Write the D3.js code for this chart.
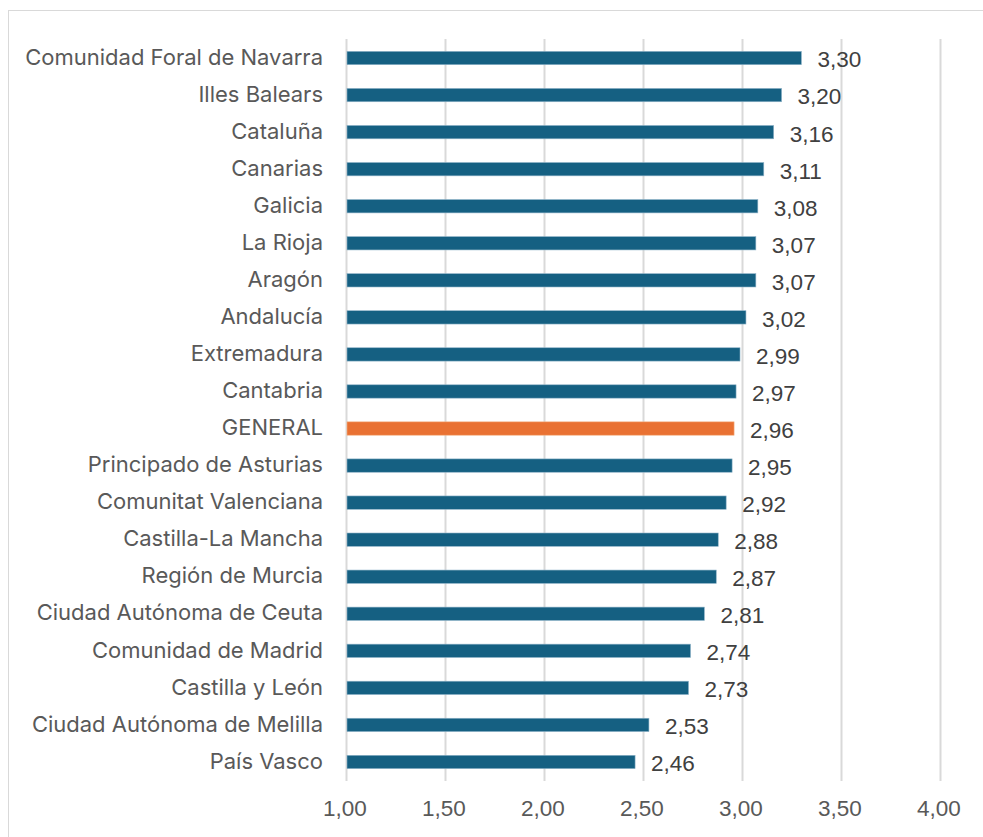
<!DOCTYPE html>
<html><head><meta charset="utf-8">
<script src="https://cdn.jsdelivr.net/npm/d3@7"></script>
<style>body{margin:0;background:#fff;}svg{display:block;}</style>
</head><body>
<script>
const categories = ["Comunidad Foral de Navarra","Illes Balears","Cataluña","Canarias","Galicia","La Rioja","Aragón","Andalucía","Extremadura","Cantabria","GENERAL","Principado de Asturias","Comunitat Valenciana","Castilla-La Mancha","Región de Murcia","Ciudad Autónoma de Ceuta","Comunidad de Madrid","Castilla y León","Ciudad Autónoma de Melilla","País Vasco"];
const values = [3.30,3.20,3.16,3.11,3.08,3.07,3.07,3.02,2.99,2.97,2.96,2.95,2.92,2.88,2.87,2.81,2.74,2.73,2.53,2.46];
const tickValues = [1.0,1.5,2.0,2.5,3.0,3.5,4.0];
const highlight = "GENERAL";

const W = 983, H = 837;
const svg = d3.select("body").append("svg").attr("width", W).attr("height", H);
svg.append("rect").attr("x", 8.5).attr("y", 10.5).attr("width", W).attr("height", H)
  .attr("fill", "#fff").attr("stroke", "#d9d9d9").attr("stroke-width", 1);

const x = d3.scaleLinear().domain([1, 4]).range([346, 940]);
const y = d3.scaleBand().domain(categories).range([39.5, 780.5]).paddingInner(0.64).paddingOuter(0.32);
const fmt = v => d3.format(".2f")(v).replace(".", ",");

// gridlines
svg.append("g").selectAll("line").data(tickValues).join("line")
  .attr("x1", d => Math.round(x(d)) + 0.5).attr("x2", d => Math.round(x(d)) + 0.5)
  .attr("y1", 39).attr("y2", 781)
  .attr("stroke", "#d9d9d9").attr("stroke-width", 2);

// bars
svg.append("g").selectAll("rect").data(values).join("rect")
  .attr("x", x(1) + 1)
  .attr("y", (d, i) => y(categories[i]))
  .attr("width", d => x(d) - x(1) - 1)
  .attr("height", y.bandwidth())
  .attr("fill", (d, i) => categories[i] === highlight ? "#E97132" : "#156082")
  .attr("stroke", (d, i) => categories[i] === highlight ? "#F4B183" : "#8fb3c8")
  .attr("stroke-width", 0.6);

// value labels
svg.append("g").selectAll("text").data(values).join("text")
  .attr("x", d => x(d) + 16)
  .attr("y", (d, i) => y(categories[i]) + y.bandwidth() / 2 + 1.5)
  .attr("dy", "0.35em")
  .attr("font-family", "Liberation Sans, Arial, sans-serif")
  .attr("font-size", 22.5).attr("fill", "#404040")
  .text(d => fmt(d));

// category labels
svg.append("g").selectAll("text").data(categories).join("text")
  .attr("x", 323)
  .attr("y", d => y(d) + y.bandwidth() / 2 - 1)
  .attr("dy", "0.35em").attr("text-anchor", "end")
  .attr("font-family", "Inter, 'Open Sans', sans-serif")
  .attr("font-size", 22).attr("fill", "#595959")
  .text(d => d);

// x tick labels
svg.append("g").selectAll("text").data(tickValues).join("text")
  .attr("x", d => x(d) - 1)
  .attr("y", 808).attr("dy", "0.35em").attr("text-anchor", "middle")
  .attr("font-family", "Liberation Sans, Arial, sans-serif")
  .attr("font-size", 22.5).attr("fill", "#595959")
  .text(d => fmt(d));
</script>
</body></html>
